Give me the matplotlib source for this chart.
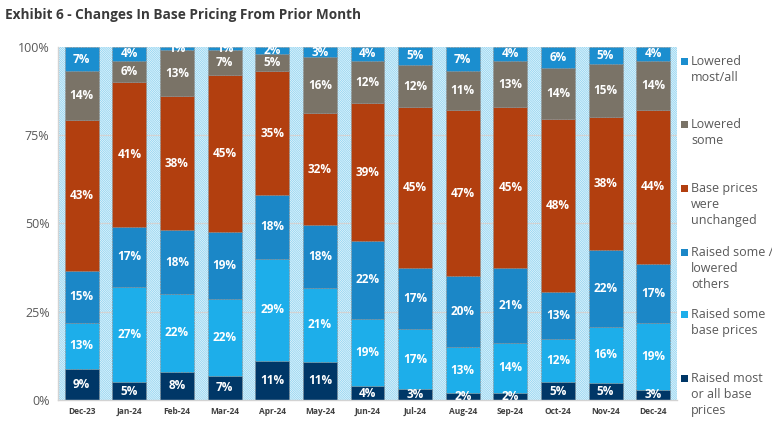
import matplotlib
matplotlib.use("Agg")
import matplotlib.pyplot as plt
from matplotlib.patches import Rectangle
import numpy as np

plt.rcParams['font.family'] = ['Open Sans', 'DejaVu Sans']
plt.rcParams['hatch.linewidth'] = 0.5

months = ['Dec-23', 'Jan-24', 'Feb-24', 'Mar-24', 'Apr-24', 'May-24', 'Jun-24',
          'Jul-24', 'Aug-24', 'Sep-24', 'Oct-24', 'Nov-24', 'Dec-24']

# bottom to top
raised_most = [9, 5, 8, 7, 11, 11, 4, 3, 2, 2, 5, 5, 3]
raised_some = [13, 27, 22, 22, 29, 21, 19, 17, 13, 14, 12, 16, 19]
raised_lowered = [15, 17, 18, 19, 18, 18, 22, 17, 20, 21, 13, 22, 17]
unchanged = [43, 41, 38, 45, 35, 32, 39, 45, 47, 45, 48, 38, 44]
lowered_some = [14, 6, 13, 7, 5, 16, 12, 12, 11, 13, 14, 15, 14]
lowered_most = [7, 4, 1, 1, 2, 3, 4, 5, 7, 4, 6, 5, 4]

series = [raised_most, raised_some, raised_lowered, unchanged, lowered_some, lowered_most]
labels = ['Raised most\nor all base\nprices', 'Raised some\nbase prices',
          'Raised some /\nlowered\nothers', 'Base prices\nwere\nunchanged',
          'Lowered\nsome', 'Lowered\nmost/all']
colors = ['#003767', '#1DAEEA', '#1B87C7', '#B23F0F', '#7A7367', '#1B8ECF']

fig = plt.figure(figsize=(7.72, 4.33), dpi=100)
ax = fig.add_axes([0.075, 0.076, 0.802, 0.816])

# hatched plot area
ax.add_patch(Rectangle((0, 0), 1, 1, transform=ax.transAxes, facecolor='white',
                       edgecolor='#7FCDEF', hatch='\\' * 18, linewidth=0, zorder=0))
for y in [25, 50, 75]:
    ax.axhline(y, color='#D3D3D3', lw=0.9, zorder=1)

vals = np.array(series, dtype=float)
tot = vals.sum(axis=0)
x = np.arange(len(months))
bottom = np.zeros(len(months))
for v, c in zip(vals, colors):
    h = v / tot * 100
    ax.bar(x, h, 0.71, bottom=bottom, color=c, edgecolor='#8C8C8C',
           linewidth=0.4, linestyle='--', zorder=2)
    for xi, b, hi, vi in zip(x, bottom, h, v):
        ax.text(xi, b + hi / 2, '%d%%' % vi, ha='center', va='center',
                color='white', fontsize=8.5, fontweight='bold', zorder=3)
    bottom += h

ax.set_xlim(-0.5, len(months) - 0.5)
ax.set_ylim(0, 100)
ax.set_yticks([0, 25, 50, 75, 100])
ax.set_yticklabels(['0%', '25%', '50%', '75%', '100%'], color='#595959', fontsize=9)
ax.set_xticks(x)
ax.set_xticklabels(months, fontsize=6, fontweight='bold', color='#404040')
ax.tick_params(length=0, pad=6)
ax.tick_params(axis='x', pad=5)
for s in ['top', 'right']:
    ax.spines[s].set_visible(False)
for s in ['left', 'bottom']:
    ax.spines[s].set_color('#D3D3D3')
    ax.spines[s].set_linewidth(1.0)

fig.text(0.006, 0.966, 'Exhibit 6 - Changes In Base Pricing From Prior Month',
         fontsize=9.8, fontweight='bold', color='#3A3A3A', ha='left', va='center')

# legend, top entry first
legend_tops = [55, 118, 182, 246, 308, 372]
for ytop, lab, c in zip(legend_tops, labels[::-1], colors[::-1]):
    fy = 1 - (ytop + 6) / 433
    fig.patches.append(Rectangle((681 / 772, fy - 3.5 / 433), 7 / 772, 7 / 433,
                                 transform=fig.transFigure, facecolor=c, edgecolor='none'))
    fig.text(691 / 772, 1 - ytop / 433, lab, fontsize=9, color='#595959',
             ha='left', va='top', linespacing=1.3)

fig.savefig('out.png', dpi=100)
